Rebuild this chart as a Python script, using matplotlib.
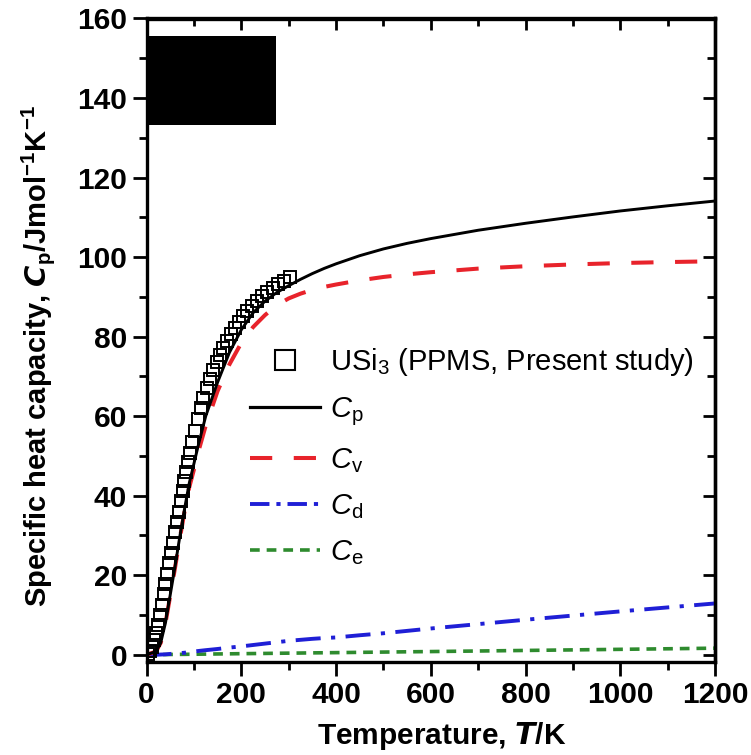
import matplotlib
matplotlib.use("Agg")
import matplotlib.pyplot as plt
from matplotlib.lines import Line2D
from matplotlib.patches import Rectangle
from matplotlib.ticker import MultipleLocator

plt.rcParams['font.family'] = ['Liberation Sans', 'DejaVu Sans']
plt.rcParams['mathtext.fontset'] = 'custom'
plt.rcParams['mathtext.rm'] = 'Liberation Sans'
plt.rcParams['mathtext.it'] = 'Liberation Sans:italic'
plt.rcParams['mathtext.bf'] = 'Liberation Sans:bold'
plt.rcParams['lines.scale_dashes'] = False

# Measured heat capacity of USi3 (PPMS)
T_exp = [4, 8, 12, 16, 20, 24, 28, 32, 36, 40, 44, 48, 52, 56, 60, 64, 68, 72,
         76, 80, 84, 88, 92, 97, 102, 108, 114, 120, 127, 134, 141, 148, 155,
         162, 170, 178, 186, 195, 204, 213, 223, 233, 244, 255, 266, 278, 290, 302]
Cp_exp = [0.3, 0.9, 2.0, 3.6, 5.4, 7.6, 10.0, 12.6, 15.2, 17.8, 20.4, 23.0,
          25.6, 28.2, 30.8, 33.4, 36.0, 38.6, 41.1, 43.6, 46.0, 48.4, 50.8,
          53.6, 56.3, 59.3, 62.0, 64.5, 67.0, 69.4, 71.6, 73.6, 75.4, 77.1,
          78.9, 80.6, 82.1, 83.7, 85.1, 86.4, 87.7, 88.9, 90.1, 91.2, 92.2,
          93.2, 94.1, 95.0]

# Calculated contributions
T_calc = [0, 20, 30, 40, 50, 60, 70, 80, 90, 100, 110, 125, 150, 175, 200,
          225, 250, 275, 300, 325, 350, 375, 400, 450, 500, 550, 600, 700,
          800, 900, 1000, 1100, 1200]
Cp_calc = [0, 0.8, 3.0, 8.0, 15.0, 22.0, 29.5, 36.5, 43.0, 48.0, 53.0, 60.0,
           68.5, 76.0, 81.7, 86.0, 88.9, 91.1, 92.8, 94.4, 95.85, 97.15, 98.3,
           100.35, 102.05, 103.45, 104.65, 106.75, 108.5, 110.1, 111.6, 112.9,
           114.1]
Cv_calc = [0, 0.8, 3.0, 7.9, 14.8, 21.7, 29.0, 35.8, 42.0, 46.5, 51.3, 57.6,
           66.3, 73.0, 78.4, 82.4, 85.4, 87.9, 89.6, 90.8, 91.75, 92.5, 93.1,
           94.15, 95.0, 95.65, 96.2, 97.1, 97.7, 98.15, 98.5, 98.75, 98.95]
Cd_calc = [0, 0.0, 0.05, 0.1, 0.2, 0.3, 0.4, 0.5, 0.65, 0.8, 0.95, 1.15, 1.45,
           1.8, 2.1, 2.45, 2.8, 3.15, 3.5, 3.75, 4.0, 4.2, 4.35, 4.9, 5.4,
           6.0, 6.6, 7.7, 8.8, 9.85, 10.9, 11.9, 12.9]
Ce_calc = [0, 0.03, 0.04, 0.05, 0.07, 0.08, 0.09, 0.1, 0.12, 0.13, 0.14, 0.16,
           0.2, 0.23, 0.27, 0.3, 0.33, 0.37, 0.4, 0.43, 0.47, 0.5, 0.53, 0.6,
           0.67, 0.74, 0.8, 0.94, 1.08, 1.22, 1.36, 1.5, 1.65]

fig = plt.figure(figsize=(7.51, 7.55), dpi=100)
W, H = 751, 755
left, right, top, bottom = 146.5, 715, 18.5, 661.5
ax = fig.add_axes([left / W, 1 - bottom / H, (right - left) / W, (bottom - top) / H])

red = '#e8232b'
blue = '#1f1fd6'
green = '#2e8b2e'

ce_dash = (7, 5)
cd_dash = (18, 7.5, 3, 7.5)
cv_dash = (16, 15.5)

ax.plot(T_calc, Ce_calc, color=green, lw=2.6, dashes=ce_dash, zorder=2)
ax.plot(T_calc, Cd_calc, color=blue, lw=2.8, dashes=cd_dash, zorder=2)
ax.plot(T_calc, Cv_calc, color=red, lw=2.9, dashes=cv_dash, zorder=2)
ax.plot(T_exp, Cp_exp, ls='none', marker='s', ms=9, mfc='none', mec='black',
        mew=1.4, zorder=3)
ax.plot(T_calc, Cp_calc, color='black', lw=2.1, zorder=4)

ax.set_xlim(0, 1200)
ax.set_ylim(-1.7, 160)
ax.xaxis.set_major_locator(MultipleLocator(200))
ax.xaxis.set_minor_locator(MultipleLocator(100))
ax.yaxis.set_major_locator(MultipleLocator(20))
ax.yaxis.set_minor_locator(MultipleLocator(10))

for s in ax.spines.values():
    s.set_linewidth(2.4)

ax.tick_params(which='both', direction='out', width=2.0, top=False, right=False,
               labelsize=21.5, pad=4)
ax.tick_params(which='major', length=10)
ax.tick_params(which='minor', length=5.5)
for lab in ax.get_xticklabels() + ax.get_yticklabels():
    lab.set_fontweight('bold')

# inward ticks on the opposite sides
axt = ax.secondary_xaxis('top')
axt.xaxis.set_major_locator(MultipleLocator(200))
axt.xaxis.set_minor_locator(MultipleLocator(100))
axt.tick_params(which='both', direction='in', width=2.0, labeltop=False)
axt.tick_params(which='major', length=8.5)
axt.tick_params(which='minor', length=5.5)
axt.spines['top'].set_linewidth(2.4)
axr = ax.secondary_yaxis('right')
axr.yaxis.set_major_locator(MultipleLocator(20))
axr.yaxis.set_minor_locator(MultipleLocator(10))
axr.tick_params(which='both', direction='in', width=2.0, labelright=False)
axr.tick_params(which='major', length=8.5)
axr.tick_params(which='minor', length=5.5)
axr.spines['right'].set_linewidth(2.4)

ax.set_xlabel(r'Temperature, $\mathbfit{T}$/K', fontsize=21.5, fontweight='bold')
ax.xaxis.set_label_coords((442 - left) / (right - left), (bottom - 736) / (bottom - top),
                          transform=ax.transAxes)
ax.xaxis.label.set_va('center')
ax.set_ylabel(r'Specific heat capacity, $\mathbfit{C}_{\mathbf{p}}$/Jmol$^{\mathbf{-1}}$K$^{\mathbf{-1}}$',
              fontsize=21, fontweight='bold')
ax.yaxis.set_label_coords((38 - left) / (right - left), (bottom - 356) / (bottom - top),
                          transform=ax.transAxes)
ax.yaxis.label.set_va('center')

ax.add_patch(Rectangle((0, 133.2), 273, 22.3, facecolor='black', edgecolor='none',
                       zorder=6))

handles = [
    Line2D([], [], ls='none', marker='s', ms=15, mfc='none', mec='black', mew=1.5),
    Line2D([], [], color='black', lw=2.3),
    Line2D([], [], color=red, lw=2.9, dashes=cv_dash),
    Line2D([], [], color=blue, lw=2.8, dashes=(14, 5, 3, 5)),
    Line2D([], [], color=green, lw=2.6, dashes=ce_dash),
]
labels = [r'USi$_3$ (PPMS, Present study)', r'$C_{\mathrm{p}}$', r'$C_{\mathrm{v}}$',
          r'$C_{\mathrm{d}}$', r'$C_{\mathrm{e}}$']
leg = ax.legend(handles, labels, loc='upper left', frameon=False, fontsize=21,
                bbox_to_anchor=(250 / W, 1 - 346 / H), bbox_transform=fig.transFigure,
                handlelength=2.4, handletextpad=0.34, labelspacing=0.6,
                borderpad=0, borderaxespad=0)

fig.savefig('out.png', dpi=100)
